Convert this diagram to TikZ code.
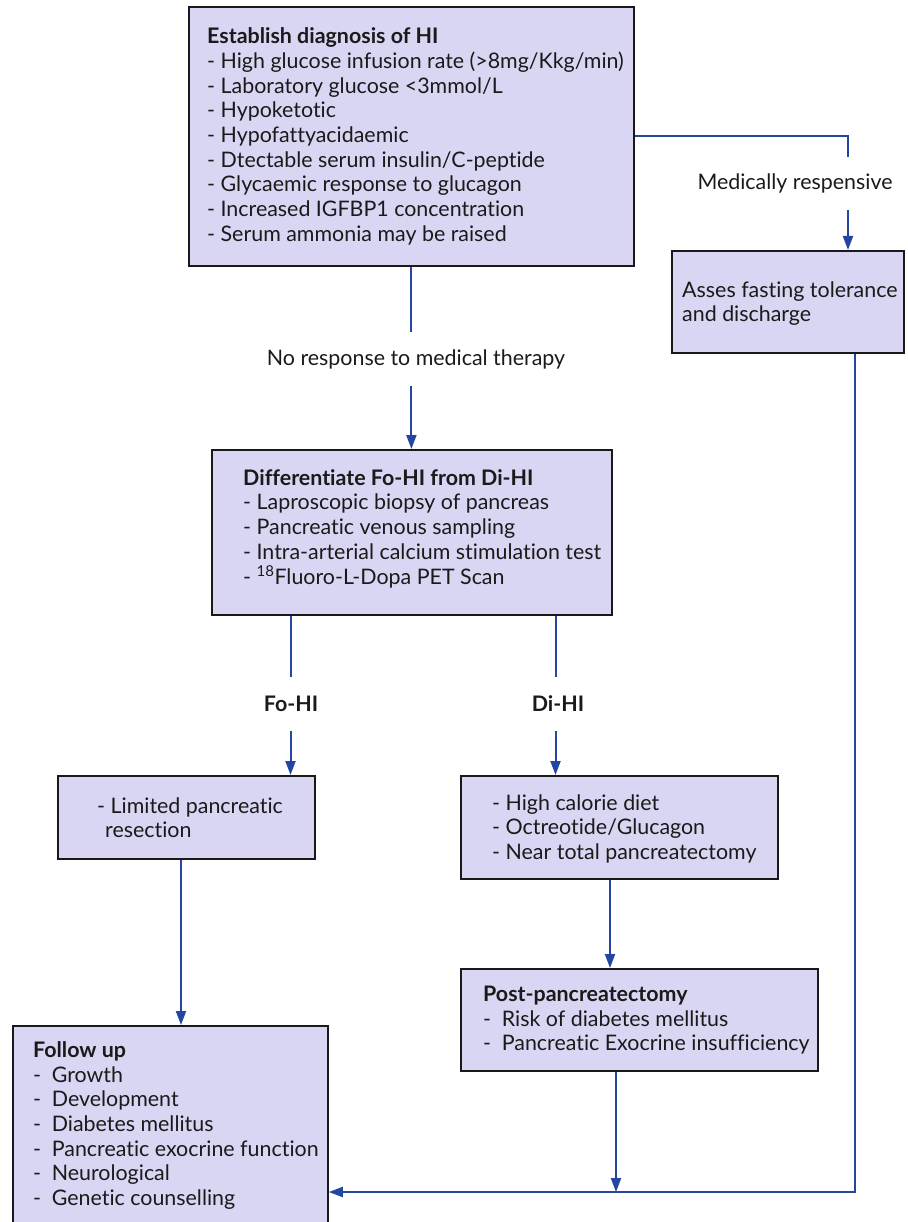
\documentclass[tikz,border=0pt]{standalone}
\usepackage{fontspec}
\setmainfont{Lato}[Ligatures=NoCommon]
\usetikzlibrary{arrows.meta}
\definecolor{boxfill}{HTML}{D9D6F3}
\definecolor{flow}{HTML}{2347A0}
\definecolor{ink}{HTML}{1A1A1A}
% dash followed by a wider gap, used in the later lists
\newcommand{\wdash}{-\hspace{0.5em}}

\begin{document}
\begin{tikzpicture}[x=1pt,y=-1pt,
  box/.style={draw=black!90, line width=1.8pt, fill=boxfill, anchor=north west, inner sep=0pt},
  txt/.style={anchor=north west, inner sep=0pt, align=left, text=ink, font=\fontsize{21.4}{24.7}\selectfont},
  lab/.style={inner sep=0pt, text=ink, font=\fontsize{21.4}{24.7}\selectfont, minimum height=54pt},
  flowline/.style={draw=flow, line width=2pt},
  arr/.style={flowline, -{Triangle[length=14pt,width=10pt]}}
]
\useasboundingbox (0,0) rectangle (907,1222);
\clip (0,0) rectangle (907,1222);

% boxes
\node[box, minimum width=445, minimum height=259] (b1) at (188,6) {};
\node[box, minimum width=232, minimum height=102] (b2) at (671,250) {};
\node[box, minimum width=400, minimum height=165] (b3) at (211,449) {};
\node[box, minimum width=257, minimum height=83]  (b4) at (57,775) {};
\node[box, minimum width=317, minimum height=103] (b5) at (460,775) {};
\node[box, minimum width=357, minimum height=102] (b6) at (460,968) {};
\node[box, minimum width=315, minimum height=230] (b7) at (12,1025) {};

% box texts
\node[txt] (t1) at (207,26.3) {\strut\textbf{Establish diagnosis of HI}\\
  - High glucose infusion rate (>8mg/Kkg/min)\\
  - Laboratory glucose <3mmol/L\\
  - Hypoketotic\\
  - Hypofattyacidaemic\\
  - Dtectable serum insulin/C-peptide\\
  - Glycaemic response to glucagon\\
  - Increased IGFBP1 concentration\\
  - Serum ammonia may be raised};
\node[txt] (t2) at (682,279.8) {\strut Asses fasting tolerance\\and discharge};
\node[txt] (t3) at (243,467.8) {\strut\textbf{Differentiate Fo-HI from Di-HI}\\
  - Laproscopic biopsy of pancreas\\
  - Pancreatic venous sampling\\
  - Intra-arterial calcium stimulation test\\
  - \textsuperscript{18}Fluoro-L-Dopa PET Scan};
\node[txt] (t4) at (97,795.8) {\strut - Limited pancreatic\\\hspace*{8pt}resection};
\node[txt] (t5) at (492,792.8) {\strut - High calorie diet\\
  - Octreotide/Glucagon\\
  - Near total pancreatectomy};
\node[txt] (t6) at (483,983.8) {\strut\textbf{Post-pancreatectomy}\\
  \wdash Risk of diabetes mellitus\\
  \wdash Pancreatic Exocrine insufficiency};
\node[txt] (t7) at (33,1039.8) {\strut\textbf{Follow up}\\
  \wdash Growth\\
  \wdash Development\\
  \wdash Diabetes mellitus\\
  \wdash Pancreatic exocrine function\\
  \wdash Neurological\\
  \wdash Genetic counselling};

% connector labels
\node[lab] (mr) at (795,183) {Medically respensive};
\node[lab] (nr) at (416,359) {No response to medical therapy};
\node[lab] (fo) at (291,704) {\textbf{Fo-HI}};
\node[lab] (di) at (558,704) {\textbf{Di-HI}};

% junction points
\coordinate (m1) at (848,157);
\coordinate (m2) at (848,210);
\coordinate (fx) at (290.5,0);
\coordinate (dx) at (555.5,0);
\coordinate (c4) at (181,0);
\coordinate (c5) at (610,0);
\coordinate (j) at (616,1192);
\coordinate (rx) at (855,1192);

% connectors
\draw[flowline] (b1.east) -| (m1);
\draw[arr] (m2) -- (b2.north -| m2);
\draw[flowline] (b1.south) -- (b1.south |- nr.north);
\draw[arr] (b1.south |- nr.south) -- (b1.south |- b3.north);
\draw[flowline] (b3.south -| fx) -- (fo.north -| fx);
\draw[arr] (fo.south -| fx) -- (b4.north -| fx);
\draw[flowline] (b3.south -| dx) -- (di.north -| dx);
\draw[arr] (di.south -| dx) -- (b5.north -| dx);
\draw[arr] (b4.south -| c4) -- (b7.north -| c4);
\draw[arr] (b5.south -| c5) -- (b6.north -| c5);
\draw[arr] (b6.south -| j) -- (j);
\draw[arr] (b2.south -| rx) -- (rx) -- (b7.east |- rx);
\end{tikzpicture}
\end{document}
